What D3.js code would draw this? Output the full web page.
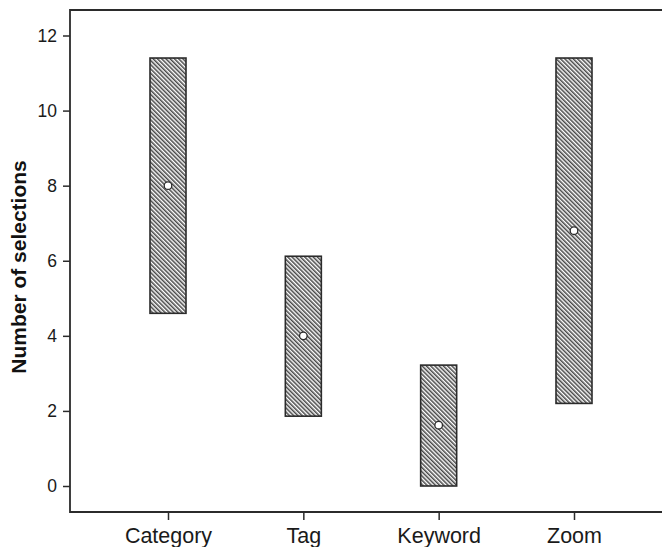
<!DOCTYPE html>
<html>
<head>
<meta charset="utf-8">
<script src="https://cdn.jsdelivr.net/npm/d3@7"></script>
<style>
  html, body { margin: 0; padding: 0; background: #fff; }
  svg { display: block; }
</style>
</head>
<body>
<svg id="chart" width="662" height="547"></svg>
<script>
// Search modes and their ranges of selections (low–high) with the mean marked
const categories = ["Category", "Tag", "Keyword", "Zoom"];
const lowValues  = [4.6, 1.86, 0, 2.2];
const highValues = [11.4, 6.12, 3.22, 11.4];
const meanValues = [8.0, 4.0, 1.62, 6.8];
const yTicks = [0, 2, 4, 6, 8, 10, 12];

const svg = d3.select("#chart");
const ink = "#2b2b2b";

const frame = { left: 70, top: 10, bottom: 512, right: 668 };

const x = d3.scalePoint()
  .domain(categories)
  .range([frame.left + 98, frame.left + 504]);

const y = d3.scaleLinear()
  .domain([0, 12])
  .range([486, 35.5]);

// Diagonal hatch fill
const defs = svg.append("defs");
const pat = defs.append("pattern")
  .attr("id", "hatch")
  .attr("patternUnits", "userSpaceOnUse")
  .attr("width", 3.0)
  .attr("height", 10)
  .attr("patternTransform", "rotate(-45)");
pat.append("rect").attr("width", 3.0).attr("height", 10).attr("fill", "#fff");
pat.append("line")
  .attr("x1", 0.8).attr("y1", 0).attr("x2", 0.8).attr("y2", 10)
  .attr("stroke", "#2e2e2e").attr("stroke-width", 1.35);

// Frame lines (left, top, bottom)
svg.append("path")
  .attr("d", `M${frame.right},${frame.top}H${frame.left}V${frame.bottom}H${frame.right}`)
  .attr("fill", "none")
  .attr("stroke", ink)
  .attr("stroke-width", 1.8);

const font = "Liberation Sans, Arial, sans-serif";

// Y axis ticks and labels
const yAxis = svg.append("g")
  .attr("transform", `translate(${frame.left},0)`)
  .call(d3.axisLeft(y).tickValues(yTicks).tickSize(7).tickPadding(6).tickFormat(d3.format("d")));
yAxis.select(".domain").remove();
yAxis.selectAll(".tick line").attr("stroke", ink).attr("stroke-width", 1.5);
yAxis.selectAll(".tick text")
  .attr("fill", "#1a1a1a")
  .style("font-family", font)
  .style("font-size", "17.5px");

// X axis ticks and labels
const xAxis = svg.append("g")
  .attr("transform", `translate(0,${frame.bottom})`)
  .call(d3.axisBottom(x).tickSize(8).tickPadding(8));
xAxis.select(".domain").remove();
xAxis.selectAll(".tick line").attr("stroke", ink).attr("stroke-width", 1.5);
xAxis.selectAll(".tick text")
  .attr("fill", "#1a1a1a")
  .style("font-family", font)
  .style("font-size", "21.5px");

// Y axis title
svg.append("text")
  .attr("transform", `translate(26,${(frame.top + frame.bottom) / 2 + 6}) rotate(-90)`)
  .attr("text-anchor", "middle")
  .attr("fill", "#111")
  .style("font-family", font)
  .style("font-weight", "bold")
  .style("font-size", "21px")
  .text("Number of selections");

// Range bars
const barW = 36;
const rows = categories.map((c, i) => ({ c, lo: lowValues[i], hi: highValues[i], m: meanValues[i] }));

svg.append("g").selectAll("rect")
  .data(rows)
  .join("rect")
  .attr("x", d => x(d.c) - barW / 2)
  .attr("width", barW)
  .attr("y", d => y(d.hi))
  .attr("height", d => y(d.lo) - y(d.hi))
  .attr("fill", "url(#hatch)")
  .attr("stroke", ink)
  .attr("stroke-width", 1.6);

// Mean markers
svg.append("g").selectAll("circle")
  .data(rows)
  .join("circle")
  .attr("cx", d => x(d.c))
  .attr("cy", d => y(d.m))
  .attr("r", 3.8)
  .attr("fill", "#fff")
  .attr("stroke", ink)
  .attr("stroke-width", 1.3);
</script>
</body>
</html>
